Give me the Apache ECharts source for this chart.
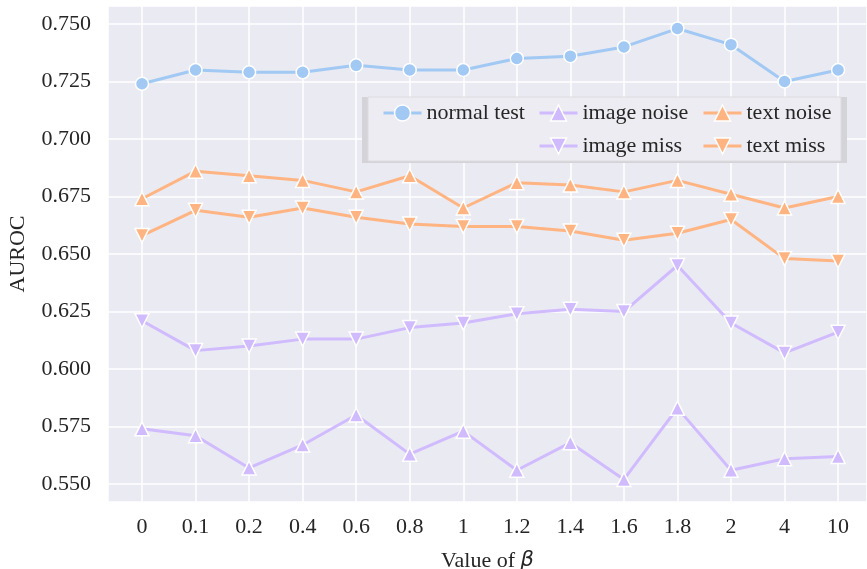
<!DOCTYPE html>
<html><head><meta charset="utf-8">
<script src="https://cdn.jsdelivr.net/npm/echarts@6/dist/echarts.min.js"></script>
<style>html,body{margin:0;padding:0;background:#fff}#c{width:867px;height:569px}</style>
</head><body><div id="c"></div>
<script>
const categories = ['0','0.1','0.2','0.4','0.6','0.8','1','1.2','1.4','1.6','1.8','2','4','10'];
const normalTest = [0.724,0.730,0.729,0.729,0.732,0.730,0.730,0.735,0.736,0.740,0.748,0.741,0.725,0.730];
const imageNoise = [0.574,0.571,0.557,0.567,0.580,0.563,0.573,0.556,0.568,0.552,0.583,0.556,0.561,0.562];
const imageMiss  = [0.621,0.608,0.610,0.613,0.613,0.618,0.620,0.624,0.626,0.625,0.645,0.620,0.607,0.616];
const textNoise  = [0.674,0.686,0.684,0.682,0.677,0.684,0.670,0.681,0.680,0.677,0.682,0.676,0.670,0.675];
const textMiss   = [0.658,0.669,0.666,0.670,0.666,0.663,0.662,0.662,0.660,0.656,0.659,0.665,0.648,0.647];

const FONT = 'Liberation Serif';
const TXT = '#262626';
const BLUE = '#A1C9F4', ORANGE = '#FFB482', PURPLE = '#D0BBFF';

function pts(arr){ return arr.map((v,i)=>[i,v]); }
function mk(name, arr, color, symbol, rot, size){
  return {
    name, type:'line', data: pts(arr), symbol, symbolSize: size, symbolRotate: rot,
    lineStyle:{color, width:3}, itemStyle:{color, borderColor:'#fff', borderWidth:1.5},
    emphasis:{disabled:true}, animation:false, z:2
  };
}
const chart = echarts.init(document.getElementById('c'), null, {renderer:'canvas'});
const legendText = {fontFamily:FONT, fontSize:22, color:TXT};
const legendBase = {itemWidth:38, itemHeight:20, textStyle:legendText, z:5, selectedMode:false,
  lineStyle:{width:3}, itemStyle:{borderColor:'#fff', borderWidth:1.5}};
chart.setOption({
  backgroundColor:'#fff',
  animation:false,
  textStyle:{fontFamily:FONT},
  grid:{left:108, right:0, top:6, bottom:67, show:true, backgroundColor:'#EAEAF2', borderWidth:0,
    containLabel:false, outerBoundsMode:'none'},
  xAxis:{
    type:'value', min:-0.635, max:13.54, minInterval:1, maxInterval:1,
    axisLine:{show:false}, axisTick:{show:false},
    splitLine:{show:true, lineStyle:{color:'#fff', width:1.5}},
    axisLabel:{fontFamily:FONT, fontSize:22, color:TXT, margin:14, showMinLabel:false, showMaxLabel:false,
      formatter:v=> (Number.isInteger(v) && categories[v]!==undefined) ? categories[v] : ''},
    name:'{a|Value of }{b|β}', nameLocation:'middle', nameGap:48,
    nameTextStyle:{rich:{a:{fontFamily:FONT, fontSize:22, color:TXT}, b:{fontFamily:'DejaVu Sans', fontStyle:'italic', fontSize:21, color:TXT}}}
  },
  yAxis:{
    type:'value', min:0.5422, max:0.7578, minInterval:0.025, maxInterval:0.025,
    axisLine:{show:false}, axisTick:{show:false},
    splitLine:{show:true, lineStyle:{color:'#fff', width:1.5}},
    axisLabel:{fontFamily:FONT, fontSize:22, color:TXT, margin:17, showMinLabel:false, showMaxLabel:false,
      formatter:v=>v.toFixed(3)},
    name:'AUROC', nameLocation:'middle', nameGap:79,
    nameTextStyle:{fontFamily:FONT, fontSize:22, color:TXT}
  },
  graphic:[
    {type:'rect', z:3, shape:{x:362, y:97, width:485, height:66}, style:{fill:'#D3D3D8'}},
    {type:'rect', z:3, shape:{x:368, y:97, width:473, height:64}, style:{fill:'#ECECF2', stroke:'#DCDCE0', lineWidth:1}}
  ],
  legend:[
    Object.assign({data:['normal test'], left:377, top:97}, legendBase),
    Object.assign({data:['image noise','image miss'], orient:'vertical', left:533, top:97, itemGap:11}, legendBase),
    Object.assign({data:['text noise','text miss'], orient:'vertical', left:697, top:97, itemGap:11}, legendBase)
  ],
  series:[
    mk('normal test', normalTest, BLUE, 'circle', 0, 13),
    mk('image noise', imageNoise, PURPLE, 'triangle', 0, 14),
    mk('text noise', textNoise, ORANGE, 'triangle', 0, 14),
    mk('image miss', imageMiss, PURPLE, 'triangle', 180, 14),
    mk('text miss', textMiss, ORANGE, 'triangle', 180, 14)
  ]
});
</script></body></html>
